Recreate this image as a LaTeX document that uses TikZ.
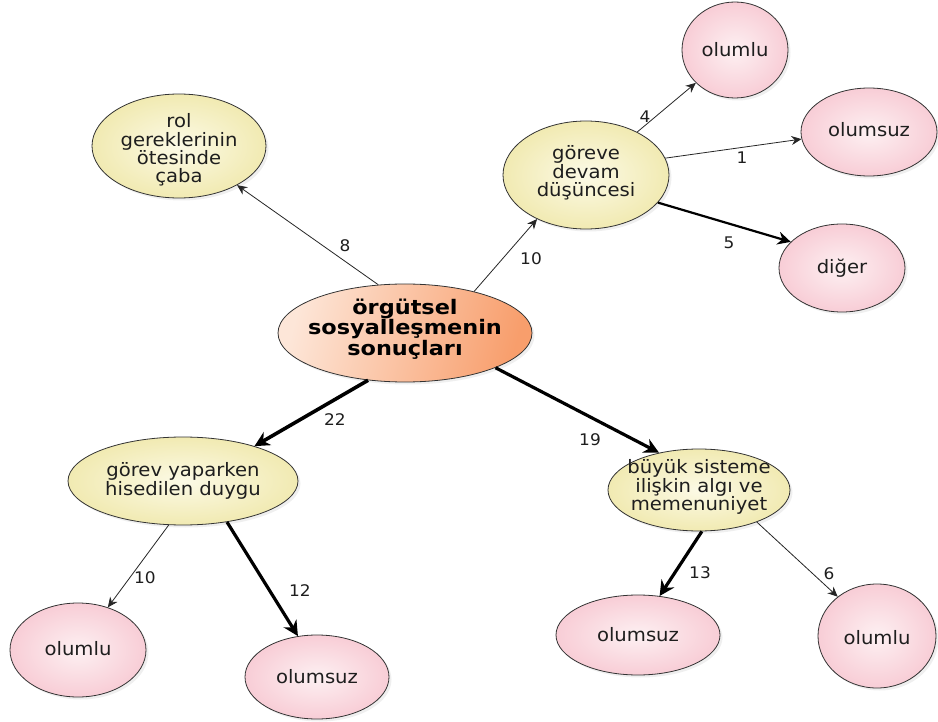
\documentclass[tikz,border=0pt]{standalone}
\usepackage{fontspec}
\setmainfont{DejaVu Sans}[FakeStretch=1.06]
\newfontfamily\centrefont{DejaVu Sans}[FakeStretch=1.12]
\usetikzlibrary{arrows.meta,shapes.geometric,shadows}
\definecolor{yin}{HTML}{FCFAE6}
\definecolor{yout}{HTML}{F1EAB2}
\definecolor{pin}{HTML}{FDF0F2}
\definecolor{pout}{HTML}{F8CDD6}
\definecolor{cleft}{HTML}{FDE6D8}
\definecolor{cright}{HTML}{F89E6C}
\definecolor{txt}{HTML}{1E1E1E}
\tikzset{
  base/.style={ellipse, draw=black!80, line width=0.8pt, inner sep=0pt,
    drop shadow={shadow xshift=2.5pt, shadow yshift=-2.5pt, opacity=0.12}},
  ynode/.style={base, inner color=yin, outer color=yout},
  pnode/.style={base, inner color=pin, outer color=pout},
  cnode/.style={base, left color=cleft, right color=cright, shading angle=75},
  ntxt/.style={align=center, text=txt, inner sep=0pt, font=\fontsize{18.5}{18.3}\selectfont},
  ctxt/.style={align=center, text=black, inner sep=0pt, font=\centrefont\bfseries\fontsize{20}{19.5}\selectfont},
  wlab/.style={text=txt, inner sep=0pt, font=\fontsize{16}{18}\selectfont},
  thinarrow/.style={draw=black!85, line width=0.8pt, -{Stealth[length=10pt, width=9pt]}},
  midarrow/.style={draw=black, line width=2.2pt, -{Stealth[length=13pt, width=13pt]}},
  thickarrow/.style={draw=black, line width=3.2pt, -{Stealth[length=15pt, width=15pt]}},
}
\begin{document}
\begin{tikzpicture}[x=1pt,y=-1pt]
\useasboundingbox[fill=white] (0,0) rectangle (938,722);

% nodes
\node[cnode, minimum width=254pt, minimum height=98pt] (c) at (405,333) {};
\node[ctxt] (ct) at (405,329) {örgütsel\\sosyalleşmenin\\sonuçları};

\node[ynode, minimum width=174pt, minimum height=104pt] (rol) at (179,146) {};
\node[ntxt] (rolt) at (179,150) {rol\\gereklerinin\\ötesinde\\çaba};

\node[ynode, minimum width=166pt, minimum height=108pt] (gd) at (586,175) {};
\node[ntxt] (gdt) at (586,173) {göreve\\devam\\düşüncesi};

\node[ynode, minimum width=230pt, minimum height=88pt] (gy) at (183,481) {};
\node[ntxt] (gyt) at (183,481) {görev yaparken\\hisedilen duygu};

\node[ynode, minimum width=182pt, minimum height=82pt] (bs) at (699,490) {};
\node[ntxt] (bst) at (699,487) {büyük sisteme\\ilişkin algı ve\\memenuniyet};

\node[pnode, minimum width=106pt, minimum height=96pt] (o1) at (735,50) {};
\node[ntxt] (o1t) at (735,50) {olumlu};
\node[pnode, minimum width=136pt, minimum height=88pt] (o2) at (869,132) {};
\node[ntxt] (o2t) at (869,130) {olumsuz};
\node[pnode, minimum width=126pt, minimum height=88pt] (o3) at (842,268) {};
\node[ntxt] (o3t) at (842,268) {diğer};
\node[pnode, minimum width=136pt, minimum height=94pt] (o4) at (78,650) {};
\node[ntxt] (o4t) at (78,649) {olumlu};
\node[pnode, minimum width=144pt, minimum height=84pt] (o5) at (317,677) {};
\node[ntxt] (o5t) at (317,677) {olumsuz};
\node[pnode, minimum width=164pt, minimum height=80pt] (o6) at (638,635) {};
\node[ntxt] (o6t) at (638,635) {olumsuz};
\node[pnode, minimum width=118pt, minimum height=104pt] (o7) at (877,636) {};
\node[ntxt] (o7t) at (877,638) {olumlu};

% connectors
\draw[thinarrow] (c.119) -- (rol.-34);
\draw[thinarrow] (c.31) -- (gd.222);
\draw[thinarrow] (gd.40) -- (o1.220);
\draw[thinarrow] (gd.12) -- (o2.186);
\draw[midarrow] (gd.-21) -- (o3.153);
\draw[thickarrow, line width=3.6pt] (c.232) -- (gy.26);
\draw[thickarrow] (c.-21) -- (bs.137);
\draw[thinarrow] (gy.252) -- (o4.55);
\draw[thickarrow] (gy.317) -- (o5.115);
\draw[thickarrow] (bs.274) -- (o6.61);
\draw[thinarrow] (bs.331) -- (o7.135);

% weight labels
\node[wlab] (l1) at (345,246) {8};
\node[wlab] (l2) at (531,259) {10};
\node[wlab] (l3) at (645,117) {4};
\node[wlab] (l4) at (742,158) {1};
\node[wlab] (l5) at (729,243) {5};
\node[wlab] (l6) at (335,420) {22};
\node[wlab] (l7) at (590,440) {19};
\node[wlab] (l8) at (145,578) {10};
\node[wlab] (l9) at (300,591) {12};
\node[wlab] (l10) at (700,573) {13};
\node[wlab] (l11) at (829,574) {6};
\end{tikzpicture}
\end{document}
